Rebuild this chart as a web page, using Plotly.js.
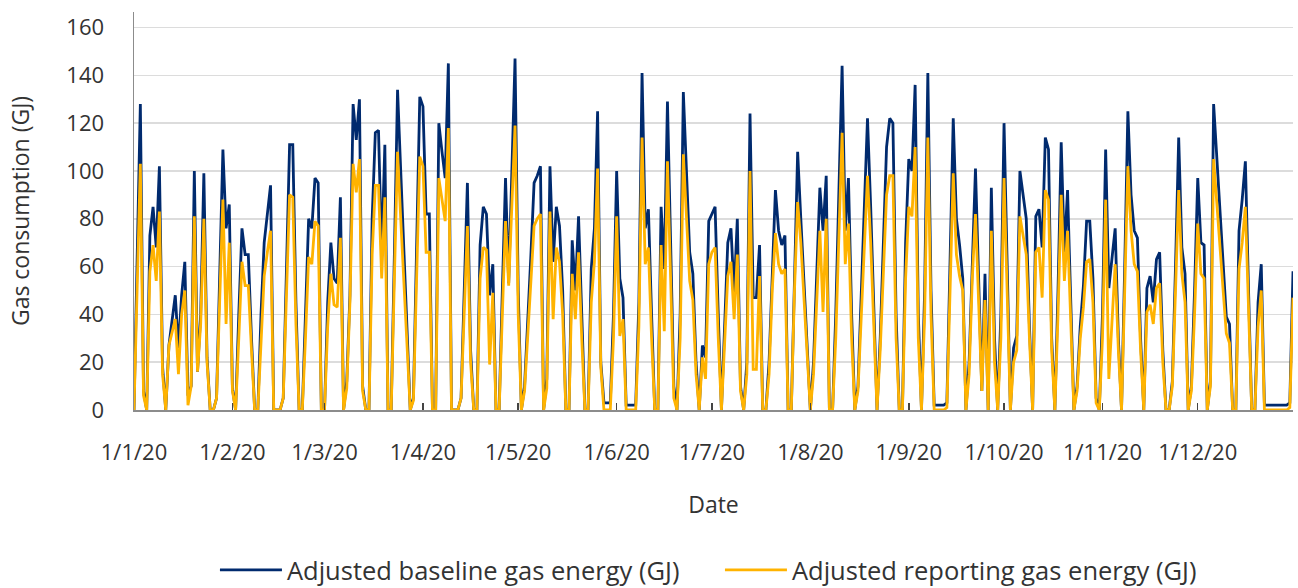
<!DOCTYPE html>
<html>
<head>
<meta charset="utf-8">
<script src="https://cdn.plot.ly/plotly-3.0.1.min.js"></script>
<style>
  html, body { margin: 0; padding: 0; background: #ffffff; }
  #chart { width: 1298px; height: 588px; }
</style>
</head>
<body>
<div id="chart"></div>
<script>
// ---- Data (daily, 2020) ----
const startDate = '2020-01-01';
const seriesNames = ['Adjusted baseline gas energy (GJ)', 'Adjusted reporting gas energy (GJ)'];
const monthTicks = ['2020-01-01','2020-02-01','2020-03-01','2020-04-01','2020-05-01','2020-06-01',
                    '2020-07-01','2020-08-01','2020-09-01','2020-10-01','2020-11-01','2020-12-01'];
const monthLabels = ['1/1/20','1/2/20','1/3/20','1/4/20','1/5/20','1/6/20',
                     '1/7/20','1/8/20','1/9/20','1/10/20','1/11/20','1/12/20'];
const yTicks = [0, 20, 40, 60, 80, 100, 120, 140, 160];

const baselineJan = [0,64,128,8,0,73,85,68,102,18,0,27,38,48,26,48,62,6,10,100,16,40,99,22,0,0,5,55,109,76,86];
const baselineFeb = [9,0,40,76,65,65,30,0,0,40,70,82,94,0,0,0,5,60,111,111,45,0,0,40,80,76,97,95,0];
const baselineMar = [0,45,70,55,53,89,0,12,48,128,113,130,10,0,0,80,116,117,65,111,0,0,65,134,100,68,30,0,5,70,131];
const baselineApr = [127,82,82,0,0,120,108,97,145,0,0,0,5,50,95,25,0,0,69,85,82,48,61,0,0,50,97,53,100,147];
const baselineMay = [50,0,10,35,65,95,98,102,0,13,102,62,85,77,50,0,0,71,50,81,40,0,0,59,76,125,20,3,3,3,40];
const baselineJun = [100,55,47,2,2,2,2,45,141,76,84,40,0,0,85,59,129,70,10,0,40,133,100,66,57,20,0,27,22,79];
const baselineJul = [82,85,40,0,35,70,76,49,80,10,0,20,124,47,47,69,0,0,20,60,92,75,69,73,0,0,60,108,80,55,28];
const baselineAug = [0,20,60,93,75,98,0,0,40,95,144,75,97,40,0,10,45,85,122,85,40,0,30,70,110,122,120,40,0,0,70];
const baselineSep = [105,100,136,40,0,50,141,50,2,2,2,2,3,60,122,80,69,55,0,20,65,101,55,8,57,0,93,30,0,40];
const baselineOct = [120,60,0,26,31,100,90,80,35,0,81,84,68,114,109,30,0,50,112,66,92,40,0,10,35,52,79,79,55,5,0];
const baselineNov = [40,109,51,63,76,30,0,60,125,90,75,72,30,0,51,56,45,63,66,25,0,0,12,60,114,68,57,0,10,50];
const baselineDec = [97,70,69,0,12,128,105,82,60,39,36,0,0,75,88,104,50,0,0,45,61,2,2,2,2,2,2,2,2,3,58];

const reportingJan = [0,52,103,6,0,58,69,54,83,15,0,27,33,38,15,40,50,2,10,81,16,36,80,20,0,0,5,45,88,36,70];
const reportingFeb = [8,0,30,62,52,52,25,0,0,30,56,66,75,0,0,0,5,50,90,89,36,0,0,30,64,61,79,77,0];
const reportingMar = [0,35,57,44,43,72,0,9,45,103,91,105,8,0,0,65,94,94,55,89,0,0,55,108,80,54,25,0,4,55,106];
const reportingApr = [102,66,66,0,0,97,88,79,118,0,0,0,5,40,77,20,0,0,55,68,67,19,49,0,0,40,79,52,85,119];
const reportingMay = [40,0,8,30,55,77,80,82,0,9,83,38,68,62,40,0,0,57,38,66,30,0,0,45,62,101,18,0,0,0,30];
const reportingJun = [81,31,38,0,0,0,0,35,114,61,68,30,0,0,69,33,104,55,5,0,30,107,80,54,46,15,0,22,13,61];
const reportingJul = [66,68,30,0,28,56,62,38,65,8,0,15,100,17,17,56,0,0,15,50,74,61,57,59,0,0,50,87,70,45,25];
const reportingAug = [0,15,45,75,41,80,0,0,30,75,116,61,78,30,0,8,35,68,98,70,35,0,25,58,90,98,98,30,0,0,55];
const reportingSep = [85,81,110,30,0,40,114,40,0,0,0,0,1,50,99,65,56,50,0,15,55,82,45,8,46,0,75,20,0,30];
const reportingOct = [97,48,0,20,25,81,73,65,30,0,66,68,47,92,88,25,0,40,90,54,75,35,0,8,30,43,62,63,45,3,0];
const reportingNov = [30,88,13,35,61,25,0,50,102,75,61,58,25,0,41,44,36,51,53,20,0,0,10,50,92,57,45,0,8,40];
const reportingDec = [78,57,55,0,10,105,88,70,50,32,28,0,0,59,70,85,40,0,0,35,50,0,0,0,0,0,0,0,0,1,47];

const baseline = [].concat(baselineJan, baselineFeb, baselineMar, baselineApr, baselineMay, baselineJun,
                           baselineJul, baselineAug, baselineSep, baselineOct, baselineNov, baselineDec);
const reporting = [].concat(reportingJan, reportingFeb, reportingMar, reportingApr, reportingMay, reportingJun,
                            reportingJul, reportingAug, reportingSep, reportingOct, reportingNov, reportingDec);

// daily date sequence
const dates = [];
(function () {
  const d0 = new Date(startDate + 'T00:00:00Z');
  for (let i = 0; i < baseline.length; i++) {
    const d = new Date(d0.getTime() + i * 86400000);
    dates.push(d.toISOString().slice(0, 10));
  }
})();

const FONT = '"Open Sans", Roboto, "Noto Sans", Arial, sans-serif';
const TXT = '#333333';

const traces = [
  { x: dates, y: baseline, type: 'scatter', mode: 'lines', name: seriesNames[0],
    line: { color: '#002a6e', width: 2.8 } },
  { x: dates, y: reporting, type: 'scatter', mode: 'lines', name: seriesNames[1],
    line: { color: '#ffb300', width: 2.8 } }
];

const layout = {
  width: 1298, height: 588,
  margin: { l: 134, r: 5, t: 12, b: 178, autoexpand: false },
  paper_bgcolor: '#ffffff', plot_bgcolor: '#ffffff',
  font: { family: FONT, size: 22, color: TXT },
  showlegend: true,
  legend: { orientation: 'h', xref: 'container', yref: 'container',
            x: 0.1656, xanchor: 'left', y: 0.03, yanchor: 'middle',
            font: { family: FONT, size: 25.5, color: TXT },
            itemwidth: 62,
            entrywidth: 428, entrywidthmode: 'pixels' },
  xaxis: {
    type: 'date', automargin: false,
    range: ['2020-01-01', '2020-12-31'],
    tickmode: 'array', tickvals: monthTicks, ticktext: monthLabels,
    showgrid: false, zeroline: false,
    showline: true, linecolor: '#8c8c8c', linewidth: 1.5,
    ticks: 'inside', ticklen: 7, tickcolor: '#444444', tickwidth: 1.5,
    ticklabelstandoff: 22,
    tickfont: { family: FONT, size: 22, color: TXT },
    title: { text: 'Date', font: { family: FONT, size: 23, color: TXT }, standoff: 32 }
  },
  yaxis: {
    range: [0, 166.5], automargin: false,
    tickmode: 'array', tickvals: yTicks,
    showgrid: true, gridcolor: '#dcdcdc', gridwidth: 1.5,
    zeroline: false,
    showline: true, linecolor: '#8c8c8c', linewidth: 1.5,
    ticks: '', ticklabelstandoff: 24,
    tickfont: { family: FONT, size: 22, color: TXT },
    title: { text: 'Gas consumption (GJ)', font: { family: FONT, size: 23, color: TXT }, standoff: 30 }
  }
};

Plotly.newPlot('chart', traces, layout, { displayModeBar: false, staticPlot: true });
</script>
</body>
</html>
